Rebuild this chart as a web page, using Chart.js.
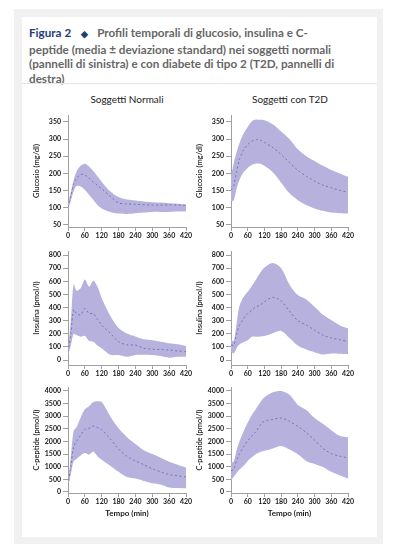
<!DOCTYPE html>
<html>
<head>
<meta charset="utf-8">
<script src="https://cdn.jsdelivr.net/npm/chart.js@4.4.0/dist/chart.umd.min.js"></script>
<style>
  body { margin: 0; width: 393px; height: 552px; position: relative; overflow: hidden; background: #fff; font-family: Lato, sans-serif; }
  #frame { position: absolute; left: 14px; top: 9px; width: 369px; height: 535px; background: #f1f1f1; }
  #card { position: absolute; left: 22px; top: 17px; width: 355px; height: 520px; background: #fff; }
  #head { position: absolute; left: 29px; top: 25px; width: 346px; font: bold 11.7px/14.7px Lato, sans-serif; color: #666; white-space: nowrap; }
  #head .fig { color: #1d3c78; }
  #head .dia { color: #1d3c78; margin: 0 9px 0 10px; font-size: 9px; }
  #sep { position: absolute; left: 22px; top: 83px; width: 355px; height: 1px; background: #e6e6e6; }
  .coltitle { position: absolute; top: 93px; width: 150px; text-align: center; font: 10px Lato, sans-serif; color: #222; }
  canvas { position: absolute; }
</style>
</head>
<body>
<div id="frame"></div>
<div id="card"></div>
<div id="head"><span class="fig">Figura 2</span><span class="dia">&#9670;</span>Profili temporali di glucosio, insulina e C-<br>peptide (media ± deviazione standard) nei soggetti normali<br>(pannelli di sinistra) e con diabete di tipo 2 (T2D, pannelli di<br>destra)</div>
<div id="sep"></div>
<div class="coltitle" style="left:52px">Soggetti Normali</div>
<div class="coltitle" style="left:215px">Soggetti con T2D</div>

<canvas id="gluN" width="170" height="140" style="left:24px;top:105px"></canvas>
<canvas id="gluD" width="173" height="140" style="left:187px;top:105px"></canvas>
<canvas id="insN" width="170" height="136" style="left:24px;top:245px"></canvas>
<canvas id="insD" width="173" height="136" style="left:187px;top:245px"></canvas>
<canvas id="cpN" width="170" height="140" style="left:24px;top:381px"></canvas>
<canvas id="cpD" width="173" height="140" style="left:187px;top:381px"></canvas>

<script>
// sampling times (min)
const times = [ 0, 10, 20, 30, 45, 60, 75, 90, 105, 120, 150, 180, 210, 240, 270, 300, 330, 360, 390, 420 ];
const timeTicks = [ 0, 60, 120, 180, 240, 300, 360, 420 ];

// Glucosio (mg/dl)
const glucoseTicks = [ 50, 100, 150, 200, 250, 300, 350 ];
const glucoseNormMean  = [ 102, 135, 168, 185, 197, 195, 186, 175, 165, 155, 134, 114, 111, 110, 109, 108, 108, 108, 108, 107 ];
const glucoseNormUpper = [ 112, 145, 180, 205, 222, 228, 220, 207, 192, 176, 148, 131, 124, 121, 118, 116, 115, 113, 112, 110 ];
const glucoseNormLower = [ 96, 120, 148, 163, 162, 152, 138, 123, 108, 98, 88, 83, 82, 84, 86, 88, 88, 88, 89, 89 ];
const glucoseT2dMean   = [ 152, 165, 205, 240, 268, 284, 294, 298, 297, 290, 275, 255, 232, 209, 192, 178, 166, 158, 151, 145 ];
const glucoseT2dUpper  = [ 192, 230, 262, 287, 316, 335, 352, 357, 356, 355, 343, 322, 300, 270, 250, 236, 222, 210, 200, 190 ];
const glucoseT2dLower  = [ 118, 122, 155, 180, 203, 216, 225, 229, 228, 222, 203, 173, 142, 122, 108, 98, 91, 86, 84, 83 ];

// Insulina (pmol/l)
const insulinTicks = [ 0, 100, 200, 300, 400, 500, 600, 700, 800 ];
const insulinNormMean  = [ 63, 200, 385, 355, 345, 393, 355, 355, 310, 266, 205, 140, 115, 114, 90, 82, 80, 76, 70, 63 ];
const insulinNormUpper = [ 65, 300, 580, 530, 548, 615, 560, 605, 560, 472, 340, 245, 203, 180, 158, 150, 140, 128, 120, 107 ];
const insulinNormLower = [ 38, 110, 200, 190, 178, 185, 145, 140, 110, 89, 40, 38, 25, 38, 40, 38, 30, 18, 25, 25 ];
const insulinT2dMean   = [ 114, 114, 200, 262, 315, 355, 381, 405, 419, 445, 478, 450, 372, 300, 268, 228, 190, 168, 155, 140 ];
const insulinT2dUpper  = [ 152, 145, 280, 410, 480, 520, 565, 615, 665, 705, 740, 700, 575, 495, 462, 406, 345, 305, 266, 241 ];
const insulinT2dLower  = [ 63, 51, 90, 118, 135, 150, 178, 178, 180, 183, 205, 222, 168, 110, 80, 60, 43, 50, 48, 46 ];

// C-peptide (pmol/l)
const cpepTicks = [ 0, 500, 1000, 1500, 2000, 2500, 3000, 3500, 4000 ];
const cpepNormMean  = [ 278, 1000, 1790, 2000, 2250, 2480, 2520, 2610, 2550, 2470, 2110, 1700, 1410, 1230, 1080, 920, 800, 690, 640, 593 ];
const cpepNormUpper = [ 340, 1400, 2420, 2550, 2950, 3280, 3400, 3560, 3590, 3560, 3000, 2520, 2170, 1900, 1650, 1500, 1360, 1200, 1080, 970 ];
const cpepNormLower = [ 215, 700, 1220, 1310, 1450, 1540, 1480, 1600, 1410, 1280, 1040, 800, 590, 530, 440, 350, 300, 180, 160, 150 ];
const cpepT2dMean   = [ 845, 910, 1250, 1500, 1790, 2030, 2220, 2400, 2650, 2810, 2870, 2930, 2800, 2600, 2350, 2050, 1730, 1520, 1420, 1350 ];
const cpepT2dUpper  = [ 1160, 1220, 1650, 2000, 2400, 2750, 3050, 3300, 3550, 3750, 3950, 4000, 3850, 3450, 3250, 2930, 2700, 2450, 2230, 2170 ];
const cpepT2dLower  = [ 470, 600, 750, 880, 1035, 1230, 1380, 1500, 1580, 1630, 1720, 1820, 1680, 1490, 1230, 1110, 990, 800, 660, 530 ];

const BAND = 'rgb(182,178,221)';
const MEAN = 'rgb(112,108,180)';
const AXIS = '#a0a0a0';

function pts ( ys )
{
    return times.map( ( t, i ) => ( { x: t, y: ys[ i ] } ) );
}

function makePanel ( id, p )
{
    const line = { pointRadius: 0, tension: 0.3 };
    new Chart( document.getElementById( id ), {
        type: 'line',
        data: {
            datasets: [
                { ...line, data: pts( p.mean ), borderColor: MEAN, borderWidth: 0.9, borderDash: [ 2, 2.5 ], fill: false },
                { ...line, data: pts( p.upper ), borderWidth: 0, borderColor: BAND, backgroundColor: BAND, fill: '+1' },
                { ...line, data: pts( p.lower ), borderWidth: 0, borderColor: BAND, fill: false }
            ]
        },
        options: {
            responsive: false,
            animation: false,
            devicePixelRatio: 1,
            layout: { padding: { top: p.padTop, right: p.padRight, left: 0, bottom: 0 } },
            plugins: { legend: { display: false }, tooltip: { enabled: false } },
            scales: {
                x: {
                    type: 'linear', min: 0, max: 420,
                    afterBuildTicks: s => { s.ticks = timeTicks.map( v => ( { value: v } ) ); },
                    afterFit: s => { s.height = p.xHeight; },
                    border: { color: AXIS, width: 1 },
                    grid: { drawOnChartArea: false, color: AXIS, tickLength: 4 },
                    ticks: { color: '#1a1a1a', font: { family: 'Lato', size: 7, weight: 'bold' }, padding: 1, maxRotation: 0, autoSkip: false, callback: v => String( v ) },
                    title: { display: !!p.xTitle, text: p.xTitle || '', color: '#1a1a1a', font: { family: 'Lato', size: 8, weight: 'bold' }, padding: { top: 0, bottom: 3 } }
                },
                y: {
                    type: 'linear', min: p.yMin, max: p.yMax,
                    afterBuildTicks: s => { s.ticks = p.yTicks.map( v => ( { value: v } ) ); },
                    afterFit: s => { s.width = 44; },
                    border: { color: AXIS, width: 1 },
                    grid: { drawOnChartArea: false, color: AXIS, tickLength: 5 },
                    ticks: { color: '#1a1a1a', font: { family: 'Lato', size: 7, weight: 'bold' }, padding: 2, autoSkip: false, callback: v => String( v ) },
                    title: { display: true, text: p.yTitle, color: '#1a1a1a', font: { family: 'Lato', size: 7.5, weight: '600' }, padding: { top: 8, bottom: 0 } }
                }
            }
        }
    } );
}

const rowTop = { padTop: 10, xHeight: 18, yMin: 44, yMax: 370, yTicks: glucoseTicks, yTitle: 'Glucosio (mg/dl)' };
const rowMid = { padTop: 6, xHeight: 16, yMin: -38, yMax: 830, yTicks: insulinTicks, yTitle: 'Insulina (pmol/l)' };
const rowBot = { padTop: 2, xHeight: 28, yMin: -40, yMax: 4150, yTicks: cpepTicks, yTitle: 'C-peptide (pmol/l)', xTitle: 'Tempo (min)' };

makePanel( 'gluN', { ...rowTop, padRight: 8, mean: glucoseNormMean, upper: glucoseNormUpper, lower: glucoseNormLower } );
makePanel( 'gluD', { ...rowTop, padRight: 12, mean: glucoseT2dMean, upper: glucoseT2dUpper, lower: glucoseT2dLower } );
makePanel( 'insN', { ...rowMid, padRight: 8, mean: insulinNormMean, upper: insulinNormUpper, lower: insulinNormLower } );
makePanel( 'insD', { ...rowMid, padRight: 12, mean: insulinT2dMean, upper: insulinT2dUpper, lower: insulinT2dLower } );
makePanel( 'cpN', { ...rowBot, padRight: 8, mean: cpepNormMean, upper: cpepNormUpper, lower: cpepNormLower } );
makePanel( 'cpD', { ...rowBot, padRight: 12, mean: cpepT2dMean, upper: cpepT2dUpper, lower: cpepT2dLower } );
</script>
</body>
</html>
